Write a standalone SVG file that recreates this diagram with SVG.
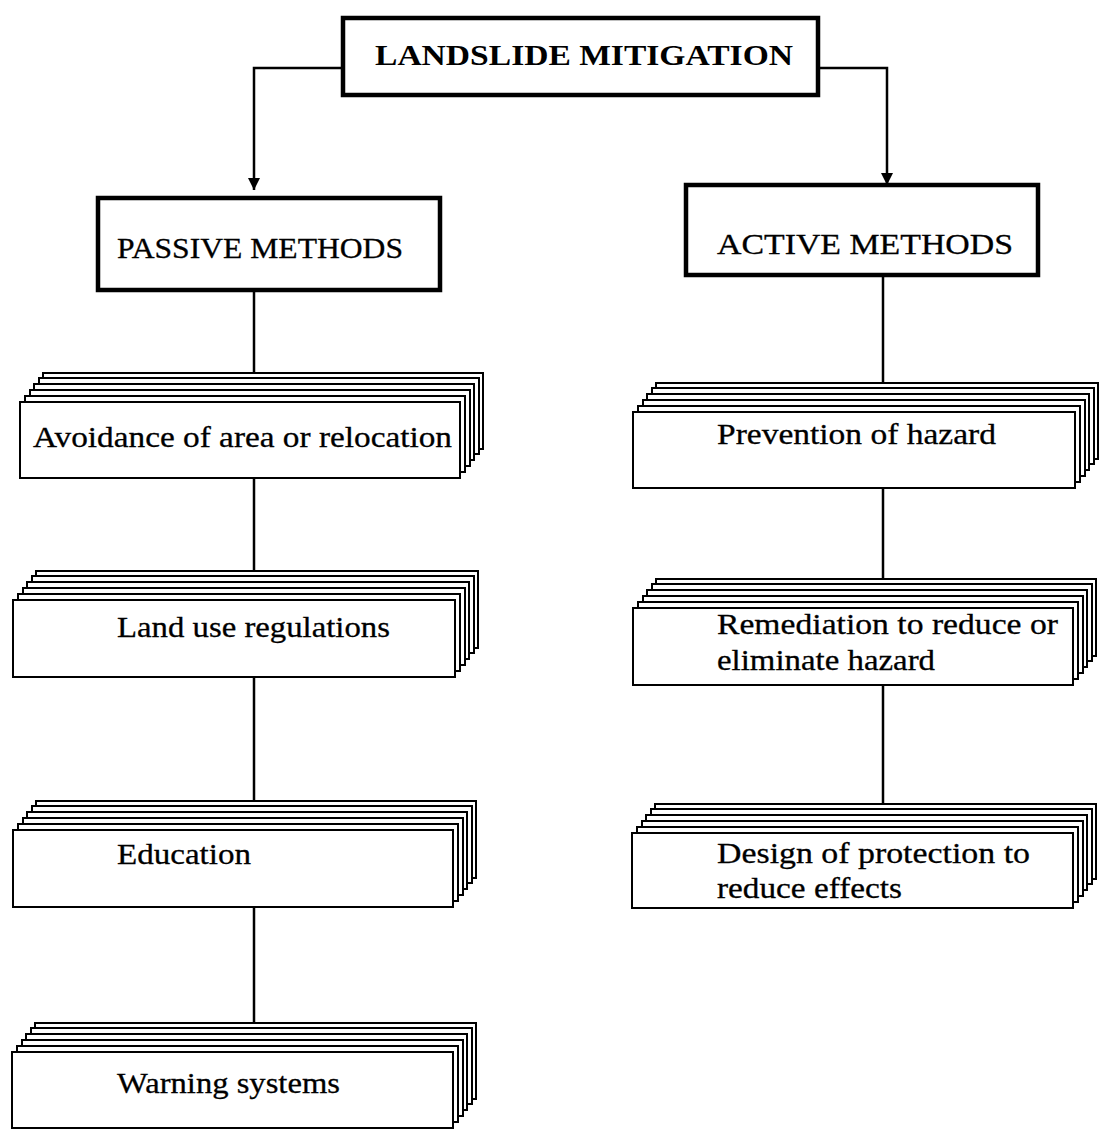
<svg xmlns="http://www.w3.org/2000/svg" width="1100" height="1130" viewBox="0 0 1100 1130">
<defs>
<style>
.bg{fill:#fff}
.thick{fill:#fff;stroke:#000;stroke-width:4.5}
.card{fill:#fff;stroke:#000;stroke-width:2}
.ln{fill:none;stroke:#000;stroke-width:2.5}
.t{font-family:"Liberation Serif","Times New Roman",serif;font-size:30px;fill:#000;stroke:#000;stroke-width:0.3}
.tb{font-family:"Liberation Serif","Times New Roman",serif;font-size:30px;font-weight:bold;fill:#000}
</style>
<marker id="ah" markerWidth="14" markerHeight="14" refX="12" refY="6" orient="auto" markerUnits="userSpaceOnUse">
<path d="M0,0 L12,6 L0,12 Z" fill="#000"/>
</marker>
</defs>
<rect class="bg" x="0" y="0" width="1100" height="1130"/>

<g id="connectors">
<polyline class="ln" points="343,68 254,68 254,190" marker-end="url(#ah)"/>
<polyline class="ln" points="818,68 887,68 887,185" marker-end="url(#ah)"/>
<line class="ln" x1="254" y1="290" x2="254" y2="374"/>
<line class="ln" x1="254" y1="478" x2="254" y2="572"/>
<line class="ln" x1="254" y1="677" x2="254" y2="802"/>
<line class="ln" x1="254" y1="907" x2="254" y2="1024"/>
<line class="ln" x1="883" y1="275" x2="883" y2="384"/>
<line class="ln" x1="883" y1="488" x2="883" y2="580"/>
<line class="ln" x1="883" y1="685" x2="883" y2="805"/>
</g>

<g id="title">
<rect class="thick" x="343" y="18" width="475" height="77"/>
<text class="tb" x="375" y="65" textLength="418" lengthAdjust="spacingAndGlyphs">LANDSLIDE MITIGATION</text>
</g>

<g id="passive">
<rect class="thick" x="98" y="198" width="342" height="92"/>
<text class="t" x="117" y="258" textLength="286" lengthAdjust="spacingAndGlyphs">PASSIVE METHODS</text>
</g>

<g id="active">
<rect class="thick" x="686" y="185" width="352" height="90"/>
<text class="t" x="717" y="254" textLength="296" lengthAdjust="spacingAndGlyphs">ACTIVE METHODS</text>
</g>

<g id="avoidance">
<rect class="card" x="43" y="373" width="440" height="76"/>
<rect class="card" x="39" y="378" width="440" height="76"/>
<rect class="card" x="34" y="384" width="440" height="76"/>
<rect class="card" x="30" y="390" width="440" height="76"/>
<rect class="card" x="25" y="396" width="440" height="76"/>
<rect class="card" x="20" y="402" width="440" height="76"/>
<text class="t" x="33" y="447" textLength="419" lengthAdjust="spacingAndGlyphs">Avoidance of area or relocation</text>
</g>

<g id="landuse">
<rect class="card" x="36" y="571" width="442" height="77"/>
<rect class="card" x="32" y="576" width="442" height="77"/>
<rect class="card" x="27" y="582" width="442" height="77"/>
<rect class="card" x="23" y="588" width="442" height="77"/>
<rect class="card" x="18" y="594" width="442" height="77"/>
<rect class="card" x="13" y="600" width="442" height="77"/>
<text class="t" x="117" y="637" textLength="273" lengthAdjust="spacingAndGlyphs">Land use regulations</text>
</g>

<g id="education">
<rect class="card" x="36" y="801" width="440" height="77"/>
<rect class="card" x="32" y="806" width="440" height="77"/>
<rect class="card" x="27" y="812" width="440" height="77"/>
<rect class="card" x="23" y="818" width="440" height="77"/>
<rect class="card" x="18" y="824" width="440" height="77"/>
<rect class="card" x="13" y="830" width="440" height="77"/>
<text class="t" x="117" y="864" textLength="134" lengthAdjust="spacingAndGlyphs">Education</text>
</g>

<g id="warning">
<rect class="card" x="35" y="1023" width="441" height="76"/>
<rect class="card" x="31" y="1028" width="441" height="76"/>
<rect class="card" x="26" y="1034" width="441" height="76"/>
<rect class="card" x="22" y="1040" width="441" height="76"/>
<rect class="card" x="17" y="1046" width="441" height="76"/>
<rect class="card" x="12" y="1052" width="441" height="76"/>
<text class="t" x="117" y="1093" textLength="223" lengthAdjust="spacingAndGlyphs">Warning systems</text>
</g>

<g id="prevention">
<rect class="card" x="656" y="383" width="442" height="76"/>
<rect class="card" x="652" y="388" width="442" height="76"/>
<rect class="card" x="647" y="394" width="442" height="76"/>
<rect class="card" x="643" y="400" width="442" height="76"/>
<rect class="card" x="638" y="406" width="442" height="76"/>
<rect class="card" x="633" y="412" width="442" height="76"/>
<text class="t" x="717" y="444" textLength="279" lengthAdjust="spacingAndGlyphs">Prevention of hazard</text>
</g>

<g id="remediation">
<rect class="card" x="656" y="579" width="440" height="77"/>
<rect class="card" x="652" y="584" width="440" height="77"/>
<rect class="card" x="647" y="590" width="440" height="77"/>
<rect class="card" x="643" y="596" width="440" height="77"/>
<rect class="card" x="638" y="602" width="440" height="77"/>
<rect class="card" x="633" y="608" width="440" height="77"/>
<text class="t" x="717" y="634" textLength="341" lengthAdjust="spacingAndGlyphs">Remediation to reduce or</text>
<text class="t" x="717" y="670" textLength="218" lengthAdjust="spacingAndGlyphs">eliminate hazard</text>
</g>

<g id="design">
<rect class="card" x="655" y="804" width="441" height="75"/>
<rect class="card" x="651" y="809" width="441" height="75"/>
<rect class="card" x="646" y="815" width="441" height="75"/>
<rect class="card" x="642" y="821" width="441" height="75"/>
<rect class="card" x="637" y="827" width="441" height="75"/>
<rect class="card" x="632" y="833" width="441" height="75"/>
<text class="t" x="717" y="863" textLength="313" lengthAdjust="spacingAndGlyphs">Design of protection to</text>
<text class="t" x="717" y="898" textLength="185" lengthAdjust="spacingAndGlyphs">reduce effects</text>
</g>
</svg>
